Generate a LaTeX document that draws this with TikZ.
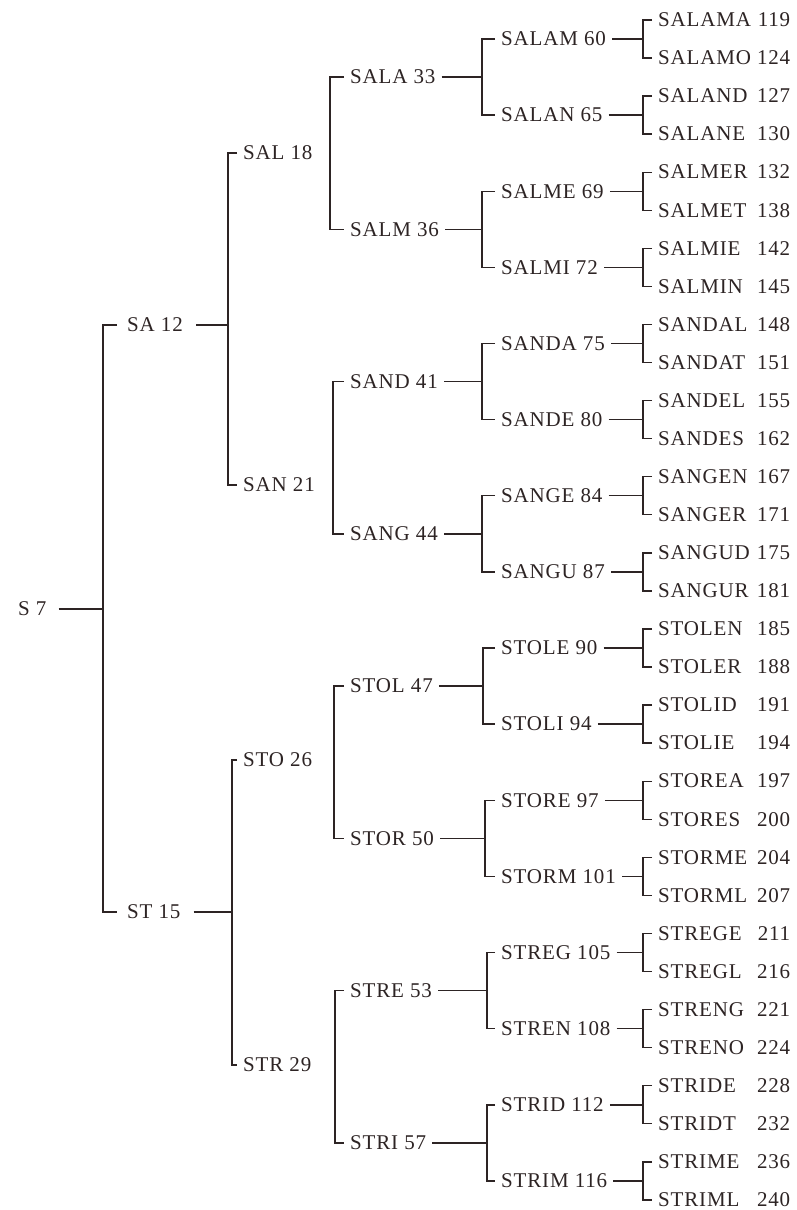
\documentclass[tikz,border=0pt]{standalone}
\usepackage{fontspec}
\setmainfont{Liberation Serif}[LetterSpace=4]
\definecolor{ink}{RGB}{45,36,36}
\begin{document}
\begin{tikzpicture}[x=1pt,y=-1pt]
\tikzset{
  lab/.style={anchor=west, inner xsep=6pt, inner ysep=0pt, text height=13.5pt, text depth=0pt,
              font=\fontsize{21}{25}\selectfont, text=ink},
  leaf/.style={lab, text width=132pt},
  tree/.style={draw=ink, line width=1.4pt}
}
\useasboundingbox (0,0) rectangle (796,1210);
% leaves
\foreach \nm/\num [count=\i from 0] in {SALAMA/119,SALAMO/124,SALAND/127,SALANE/130,SALMER/132,SALMET/138,SALMIE/142,SALMIN/145,SANDAL/148,SANDAT/151,SANDEL/155,SANDES/162,SANGEN/167,SANGER/171,SANGUD/175,SANGUR/181,STOLEN/185,STOLER/188,STOLID/191,STOLIE/194,STOREA/197,STORES/200,STORME/204,STORML/207,STREGE/211,STREGL/216,STRENG/221,STRENO/224,STRIDE/228,STRIDT/232,STRIME/236,STRIML/240}
  {\node[leaf] (l\i) at (652,{20+38.06*\i}) {\nm\hfill\num};}
% level 4
\coordinate (X4) at (643,0);
\foreach \nm [count=\j from 0] in {SALAM 60,SALAN 65,SALME 69,SALMI 72,SANDA 75,SANDE 80,SANGE 84,SANGU 87,STOLE 90,STOLI 94,STORE 97,STORM 101,STREG 105,STREN 108,STRID 112,STRIM 116}
  {\node[lab] (d\j) at (495,{39+76.13*\j}) {\nm};
   \pgfmathtruncatemacro\ta{2*\j}\pgfmathtruncatemacro\tb{2*\j+1}
   \draw[tree] (l\ta.west) -- (l\ta.west -| X4) |- (l\tb.west);
   \draw[tree] (d\j.east) -- (d\j.east -| X4);}
% level 3
\foreach \nm/\bx [count=\k from 0] in {SALA 33/482,SALM 36/482,SAND 41/482,SANG 44/482,STOL 47/483,STOR 50/485,STRE 53/487,STRI 57/487}
  {\node[lab] (c\k) at (344,{77.07+152.26*\k}) {\nm};
   \coordinate (X3) at (\bx,0);
   \pgfmathtruncatemacro\ta{2*\k}\pgfmathtruncatemacro\tb{2*\k+1}
   \draw[tree] (d\ta.west) -- (d\ta.west -| X3) |- (d\tb.west);
   \draw[tree] (c\k.east) -- (c\k.east -| X3);}
% level 2 (no stems)
\foreach \nm/\yy/\bx [count=\m from 0] in {SAL 18/153/330,SAN 21/485/333,STO 26/760/334,STR 29/1065/335}
  {\node[lab] (b\m) at (237,\yy) {\nm};
   \coordinate (X2) at (\bx,0);
   \pgfmathtruncatemacro\ta{2*\m}\pgfmathtruncatemacro\tb{2*\m+1}
   \draw[tree] (c\ta.west) -- (c\ta.west -| X2) |- (c\tb.west);}
% level 1
\node[lab] (a0) at (121,325) {SA 12};
\node[lab] (a1) at (121,912) {ST 15};
\coordinate (X1a) at (228,0);
\coordinate (X1b) at (232,0);
\draw[tree] (b0.west) -- (b0.west -| X1a) |- (b1.west);
\draw[tree] (b2.west) -- (b2.west -| X1b) |- (b3.west);
\draw[tree] ([xshift=7pt]a0.east) -- (a0.east -| X1a);
\draw[tree] ([xshift=7pt]a1.east) -- (a1.east -| X1b);
% root
\node[lab, inner xsep=12pt] (r) at (6,609) {S 7};
\coordinate (X0) at (103,0);
\draw[tree] ([xshift=-4pt]a0.west) -- (a0.west -| X0) |- ([xshift=-4pt]a1.west);
\draw[tree] (r.east) -- (r.east -| X0);
\end{tikzpicture}
\end{document}
